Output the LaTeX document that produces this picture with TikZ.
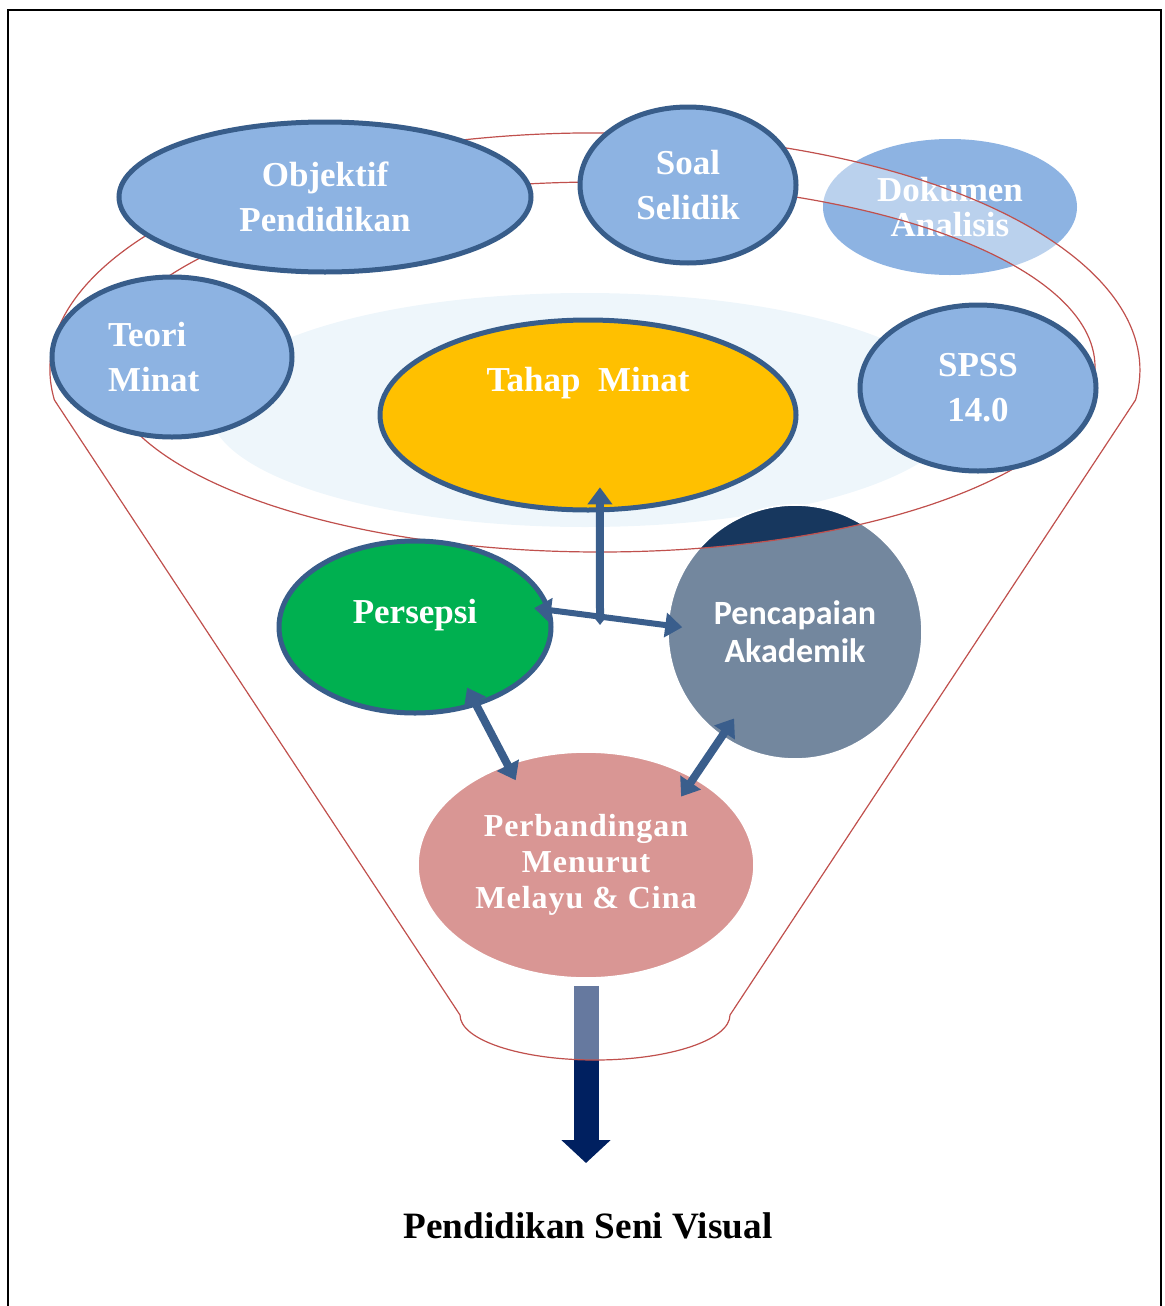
\documentclass[tikz,border=0pt]{standalone}
\usepackage{fontspec}
\setmainfont{Liberation Serif}
\newfontfamily\sansbold{Carlito}
\usepackage{xcolor}
\usepackage{tikz}
\usetikzlibrary{shapes.geometric, arrows.meta, positioning, calc, backgrounds}

\definecolor{ovalblue}{HTML}{8DB3E2}
\definecolor{edgeblue}{HTML}{385D8A}
\definecolor{funnelred}{HTML}{C0504D}
\definecolor{tahapgold}{HTML}{FFC000}
\definecolor{persgreen}{HTML}{00B050}
\definecolor{navy}{HTML}{17375E}
\definecolor{deepnavy}{HTML}{002060}
\definecolor{rosepink}{HTML}{D99694}
\definecolor{haze}{HTML}{EEF6FB}
\definecolor{linkblue}{HTML}{3A5E8C}

\newcommand{\ovalfont}{\fontsize{17.5}{22.5}\selectfont\bfseries}

\tikzstyle{OVAL}   = [ellipse,           % Oval shape
                      draw=edgeblue,     % color for LINES
                      line width=2.5pt,  % control line width.
                      fill=ovalblue,     % Fill-in the oval.
                      inner sep=0pt,
                      text=white,
                      align=center,
                      font=\ovalfont]
\tikzstyle{SOFT}   = [OVAL, draw=none]   % Oval without border
\tikzstyle{TXT}    = [text=white, font=\ovalfont, align=center]
\tikzstyle{ARROW}  = [draw=linkblue, line width=4pt,
                      {Triangle[width=12pt,length=8.5pt]}-{Triangle[width=12pt,length=8.5pt]}]
\tikzstyle{FUNNEL} = [draw=funnelred, line width=0.6pt, fill=white, fill opacity=0.4, even odd rule]

\begin{document}
\begin{tikzpicture}[x=0.5pt, y=-0.5pt]
		\useasboundingbox (0,0) rectangle (1165,1306);
		
		% Frame
		\draw[black, line width=1.3pt] (8,1306) -- (8,10) -- (1161,10) -- (1161,1306);
		
		
		
		% Outer ring of methods
		\node(objektif)[OVAL, minimum width=206pt, minimum height=75pt] at (325,197)
		{
			Objektif\\
			Pendidikan
		};
		\node(soal)[OVAL, minimum width=108pt, minimum height=78pt] at (688,185)
		{
			Soal\\
			Selidik
		};
		\node(teori)[OVAL, minimum width=120pt, minimum height=80pt, text width=64pt, align=left,
		yshift=1.5pt] at (172,360)
		{
			Teori\\
			Minat
		};
		\node(spss)[OVAL, minimum width=118pt, minimum height=83pt] at (978,388)
		{
			SPSS\\
			14.0
		};
		
		
		
		% Inner circle
		\node(tahap)[OVAL, fill=tahapgold, minimum width=208pt, minimum height=95pt,
		label={[TXT, yshift=16pt]center:Tahap\ \ Minat}] at (588,415) {};
		
		\node(persepsi)[OVAL, fill=persgreen, minimum width=136pt, minimum height=86pt,
		label={[TXT, yshift=6pt]center:Persepsi}] at (415,627) {};
		
		\node(perbandingan)[SOFT, fill=rosepink, draw=white, line width=0.8pt,
		minimum width=168pt, minimum height=113pt,
		font=\fontsize{16}{18}\selectfont\bfseries\addfontfeature{LetterSpace=3}] at (586,865)
		{
			Perbandingan\\
			Menurut\\
			Melayu \& Cina
		};
		
		
		
		% Everything seen through the funnel
		\begin{scope}[on background layer]
			\fill[haze] (585,410) ellipse [x radius=187.5pt, y radius=58.5pt];
			
			\node(dokumen)[SOFT, minimum width=127pt, minimum height=68pt,
			font=\fontsize{17.5}{17.5}\selectfont\bfseries] at (950,207)
			{
				Dokumen\\
				Analisis
			};
			
			\node(akademik)[circle, fill=navy, draw=white, line width=0.8pt, inner sep=0pt,
			minimum size=127pt, text=white, align=center,
			font=\fontsize{17}{19}\selectfont\sansbold\bfseries] at (795,632)
			{
				Pencapaian\\
				Akademik
			};
			
			% Outcome arrow
			\coordinate(flowend) at (586,1163);
			\draw[deepnavy, line width=12.5pt, -{Triangle[width=24pt,length=11.5pt]},
			shorten <=3.5pt] (perbandingan.south) -- (flowend);
			
			% The funnel itself
			\path[FUNNEL] (54.4,400)
			arc[start angle=187.3, end angle=-7.3, x radius=272.5pt, y radius=118.5pt]
			-- (730,1015)
			arc[start angle=0, end angle=-180, x radius=67.5pt, y radius=22.5pt]
			-- cycle
			(600,367) ellipse [x radius=247.5pt, y radius=92.5pt];
		\end{scope}
		
		
		
		% Result
		\node(caption) at (588,1226) {\fontsize{18.6}{20}\selectfont\bfseries Pendidikan Seni Visual};
		
		
		
		% Arrows between the factors
		\coordinate(hub) at (600,625);
		\draw[ARROW, {Triangle[width=6pt,length=4pt]}-{Triangle[width=12pt,length=8.5pt]},
		shorten >=-12.5pt] (hub) -- (tahap.-83);
		\draw[ARROW, line width=3pt, shorten <=-8.5pt, shorten >=-7.5pt] (persepsi.7) -- (akademik.177);
		\draw[ARROW, shorten <=-10.5pt, shorten >=-9pt] (persepsi.-52) -- (perbandingan.128);
		\draw[ARROW, shorten <=-11pt, shorten >=-11.5pt] (akademik.-125) -- (perbandingan.39);
		
\end{tikzpicture}
\end{document}
